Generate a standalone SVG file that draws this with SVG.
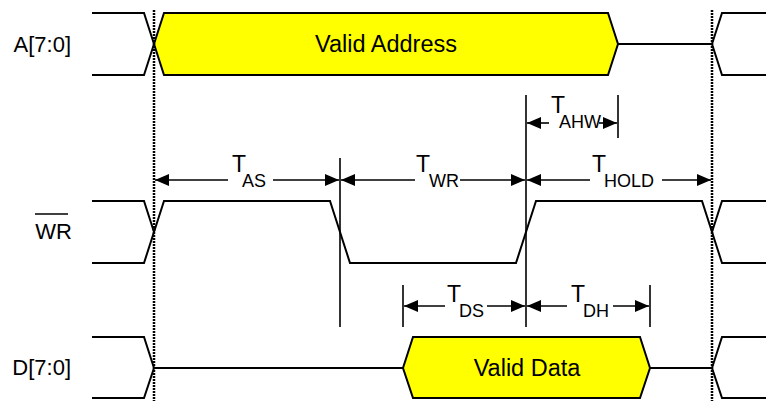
<svg xmlns="http://www.w3.org/2000/svg" width="766" height="401" viewBox="0 0 766 401">
<style>
.sig{fill:none;stroke:#000;stroke-width:2;stroke-linejoin:miter}
.bus{fill:#ffff00;stroke:#000;stroke-width:2}
.dot{stroke:#000;stroke-width:2.5;stroke-dasharray:2 1;fill:none}
.bar{stroke:#000;stroke-width:1.6;fill:none}
.dim{stroke:#000;stroke-width:1.6;fill:none}
.lbl{font-family:"Liberation Sans",Arial,sans-serif;font-size:22px;fill:#000}
.val{font-family:"Liberation Sans",Arial,sans-serif;font-size:23.5px;fill:#000}
.t{font-family:"Liberation Sans",Arial,sans-serif;font-size:23px;fill:#000}
.sub{font-family:"Liberation Sans",Arial,sans-serif;font-size:18px;fill:#000}
</style>
<defs>
<marker id="ah" viewBox="0 0 14 12" refX="14" refY="6" markerWidth="14" markerHeight="12" markerUnits="userSpaceOnUse" orient="auto-start-reverse">
<path d="M0,0 L14,6 L0,12 z" fill="#000"/>
</marker>
</defs>
<rect width="766" height="401" fill="#fff"/>

<g id="signal-a">
<text class="lbl" x="71" y="52" text-anchor="end">A[7:0]</text>
<polyline class="sig" points="92,13 144,13 154,44 144,75 92,75"/>
<polygon class="bus" points="154,44 164,13 608,13 618,44 608,75 164,75"/>
<text class="val" x="386" y="52" text-anchor="middle">Valid Address</text>
<line class="sig" x1="618" y1="44" x2="712" y2="44"/>
<polyline class="sig" points="766,13 722,13 712,44 722,75 766,75"/>
</g>

<g id="signal-wr">
<text class="lbl" x="72" y="239" text-anchor="end">WR</text>
<line x1="35" y1="214" x2="68" y2="214" stroke="#000" stroke-width="1.6"/>
<polyline class="sig" points="92,201 144,201 154,232"/>
<polyline class="sig" points="92,263 144,263 164,201 330,201 350,263 516,263 536,201 702,201 722,263 766,263"/>
<polyline class="sig" points="712,232 722,201 766,201"/>
</g>

<g id="signal-d">
<text class="lbl" x="71" y="375" text-anchor="end">D[7:0]</text>
<polyline class="sig" points="92,337 144,337 154,368 144,398 92,398"/>
<line class="sig" x1="154" y1="368" x2="403" y2="368"/>
<polygon class="bus" points="403,368 413,337 640,337 650,368 640,398 413,398"/>
<text class="val" x="527" y="376" text-anchor="middle">Valid Data</text>
<line class="sig" x1="650" y1="368" x2="712" y2="368"/>
<polyline class="sig" points="766,337 722,337 712,368 722,398 766,398"/>
</g>

<g id="connectors">
<line class="dot" x1="154" y1="10" x2="154" y2="401"/>
<line class="dot" x1="712" y1="10" x2="712" y2="401"/>
<line class="bar" x1="340" y1="158" x2="340" y2="327"/>
<line class="bar" x1="526" y1="95" x2="526" y2="327"/>
<line class="bar" x1="618" y1="95" x2="618" y2="138"/>
<line class="bar" x1="403" y1="285" x2="403" y2="327"/>
<line class="bar" x1="650" y1="285" x2="650" y2="327"/>

<line class="dim" x1="155" y1="180" x2="228" y2="180" marker-start="url(#ah)"/>
<line class="dim" x1="273" y1="180" x2="339" y2="180" marker-end="url(#ah)"/>
<line class="dim" x1="341" y1="180" x2="415" y2="180" marker-start="url(#ah)"/>
<line class="dim" x1="460" y1="180" x2="525" y2="180" marker-end="url(#ah)"/>
<line class="dim" x1="527" y1="180" x2="590" y2="180" marker-start="url(#ah)"/>
<line class="dim" x1="662" y1="180" x2="711" y2="180" marker-end="url(#ah)"/>

<line class="dim" x1="527" y1="123" x2="549" y2="123" marker-start="url(#ah)"/>
<line class="dim" x1="599" y1="123" x2="617" y2="123" marker-end="url(#ah)"/>

<line class="dim" x1="404" y1="306" x2="445" y2="306" marker-start="url(#ah)"/>
<line class="dim" x1="487" y1="306" x2="525" y2="306" marker-end="url(#ah)"/>
<line class="dim" x1="527" y1="306" x2="567" y2="306" marker-start="url(#ah)"/>
<line class="dim" x1="613" y1="306" x2="649" y2="306" marker-end="url(#ah)"/>
</g>

<g id="labels">
<text class="t" x="232" y="172">T</text><text class="sub" x="242" y="187">AS</text>
<text class="t" x="416" y="172">T</text><text class="sub" x="429" y="187">WR</text>
<text class="t" x="592" y="172">T</text><text class="sub" x="604" y="187">HOLD</text>
<text class="t" x="551" y="113">T</text><text class="sub" x="559" y="128">AHW</text>
<text class="t" x="447" y="302">T</text><text class="sub" x="459" y="317">DS</text>
<text class="t" x="571" y="302">T</text><text class="sub" x="583" y="317">DH</text>
</g>
</svg>
